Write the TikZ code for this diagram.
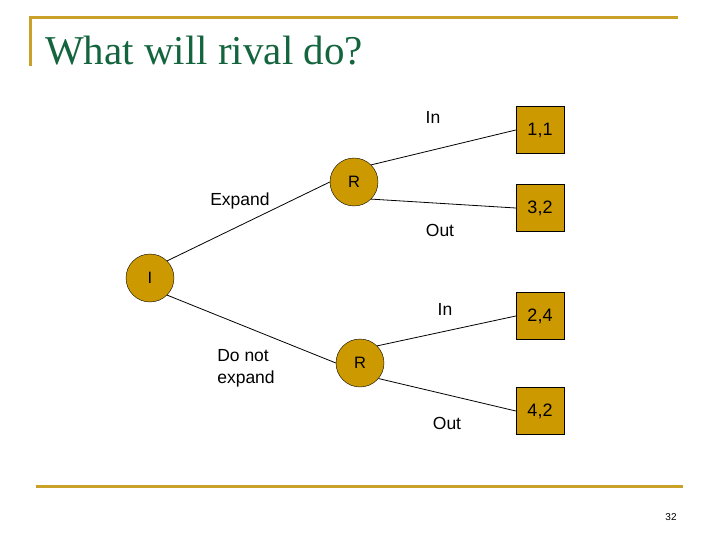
\documentclass[tikz,border=0pt]{standalone}
\usepackage{fontspec}
\setmainfont{Liberation Serif}
\setsansfont{Liberation Sans}
\usepackage{xcolor}
\usepackage{tikz}
\usetikzlibrary{shapes.geometric, positioning}
\definecolor{rulegold}{RGB}{201,160,40}
\definecolor{nodegold}{RGB}{204,153,0}
\definecolor{titlegreen}{RGB}{20,100,62}
\tikzset{
  player/.style={circle, minimum size=48pt, inner sep=0pt, draw=black, fill=nodegold, font=\sffamily\fontsize{16.5}{18}\selectfont},
  payoff/.style={rectangle, minimum width=48pt, minimum height=47pt, inner sep=0pt, text centered, draw=black, fill=nodegold, font=\sffamily\fontsize{18}{20}\selectfont},
  move/.style={font=\sffamily\fontsize{17.5}{22}\selectfont, align=left},
  branch/.style={line width=0.8pt, black},
  goldrule/.style={line width=3pt, rulegold}
}
\begin{document}
\begin{tikzpicture}[x=1pt, y=-1pt]
\useasboundingbox (0,0) rectangle (720,540);

% slide frame
\coordinate (tl) at (30,18);
\coordinate (tr) at (678,18);
\coordinate (tb) at (30,66);
\coordinate (bl) at (36,486);
\coordinate (br) at (683,486);
\draw[goldrule] (tb) -- (tl) -- (tr);
\draw[goldrule] (bl) -- (br);
\node[anchor=base west, text=titlegreen, font=\fontsize{41}{46}\selectfont, inner sep=0pt] (title) at (45,65) {What will rival do?};
\node[font=\sffamily\fontsize{10}{12}\selectfont] (page) at (671,517) {32};

% decision nodes
\node[player] (I) at (150,278) {I};
\node[player] (Ru) at (354,182) {R};
\node[player] (Rl) at (360,363) {R};

% payoffs
\node[payoff] (p11) at (540,130) {1,1};
\node[payoff] (p32) at (540,208) {3,2};
\node[payoff] (p24) at (540,316) {2,4};
\node[payoff] (p42) at (540,411) {4,2};

% branches
\draw[branch] (I.45) -- (Ru.west);
\draw[branch] (I.-45) -- (Rl.west);
\draw[branch] (Ru.45) -- (p11.west);
\draw[branch] (Ru.-45) -- (p32.west);
\draw[branch] (Rl.45) -- (p24.west);
\draw[branch] (Rl.-40) -- (p42.west);

% move labels
\node[move] (expand) at (240,201) {Expand};
\node[move] (noexpand) at (246,368) {Do not\\expand};
\node[move] (inu) at (433,117) {In};
\node[move] (outu) at (440,230) {Out};
\node[move] (inl) at (445,309) {In};
\node[move] (outl) at (447,423) {Out};
\end{tikzpicture}
\end{document}
